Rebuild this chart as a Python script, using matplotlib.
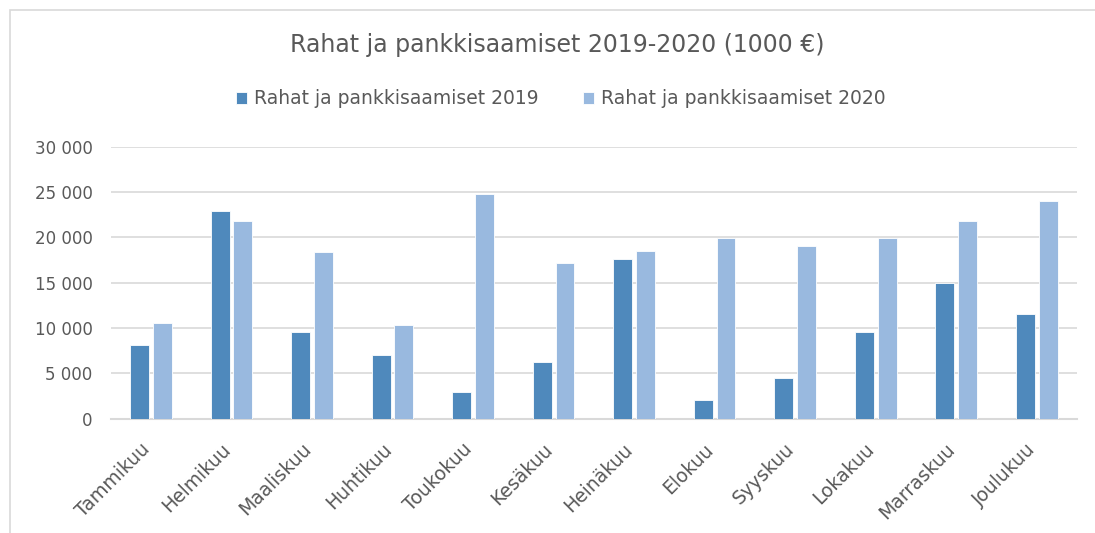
import matplotlib
matplotlib.use("Agg")
import matplotlib.pyplot as plt
from matplotlib.patches import Rectangle
from matplotlib.ticker import FuncFormatter
from matplotlib.transforms import ScaledTranslation
import numpy as np

months = ["Tammikuu", "Helmikuu", "Maaliskuu", "Huhtikuu", "Toukokuu", "Kesäkuu",
          "Heinäkuu", "Elokuu", "Syyskuu", "Lokakuu", "Marraskuu", "Joulukuu"]
values_2019 = [8100, 22950, 9550, 7000, 2950, 6250, 17650, 2100, 4450, 9600, 14950, 11550]
values_2020 = [10600, 21850, 18400, 10350, 24800, 17200, 18500, 19950, 19050, 19950, 21850, 24050]
series_names = ["Rahat ja pankkisaamiset 2019", "Rahat ja pankkisaamiset 2020"]
title = "Rahat ja pankkisaamiset 2019-2020 (1000 €)"

W, H = 1095, 533
fig = plt.figure(figsize=(W / 100, H / 100), dpi=100)
plt.rcParams['font.family'] = ['DejaVu Sans']

# chart border
fig.add_artist(Rectangle((9.5 / W, -0.1), 1.2, 1 - 10 / H + 0.1, transform=fig.transFigure,
                         fill=False, edgecolor="#D9D9D9", linewidth=1.2))

ax = fig.add_axes([110.7 / W, 1 - 418.7 / H, (1077 - 110.7) / W, (418.7 - 146.7) / H])

x = np.arange(len(months))
off = 0.1415
bw = 0.235
c19 = "#4F89BC"
c20 = "#99B9DF"
ax.bar(x - off, values_2019, bw, color=c19, edgecolor="white", linewidth=0.6, label=series_names[0], zorder=3)
ax.bar(x + off, values_2020, bw, color=c20, edgecolor="white", linewidth=0.6, label=series_names[1], zorder=3)

ax.set_xlim(-0.5, len(months) - 0.5)
ax.set_ylim(0, 30000)
ax.set_yticks(np.arange(0, 30001, 5000))
ax.yaxis.set_major_formatter(FuncFormatter(lambda v, p: f"{int(v):,}".replace(",", " ")))
ax.grid(axis="y", color="#D9D9D9", linewidth=1.2, zorder=0)
for s in ["top", "right", "left"]:
    ax.spines[s].set_visible(False)
ax.spines["bottom"].set_color("#D9D9D9")
ax.spines["bottom"].set_linewidth(1.5)
ax.tick_params(axis="y", length=0, pad=13, labelsize=12, labelcolor="#595959")
ax.tick_params(axis="x", length=0, pad=20, labelsize=13.5, labelcolor="#595959")
ax.set_xticks(x)
ax.set_xticklabels(months, rotation=45, ha="right", va="center", rotation_mode="anchor")
shift = ScaledTranslation(-4 / 100, 0, fig.dpi_scale_trans)
for lbl in ax.get_xticklabels():
    lbl.set_transform(lbl.get_transform() + shift)

fig.text(0.509, 1 - 45 / H, title, ha="center", va="center", fontsize=17, color="#595959")
fig.legend(loc="center", bbox_to_anchor=(0.512, 1 - 99 / H), ncol=2, frameon=False,
           fontsize=13.5, labelcolor="#595959", handlelength=0.6, handleheight=0.6,
           handletextpad=0.35, columnspacing=2.4)

fig.savefig("out.png", dpi=100, facecolor="white")
